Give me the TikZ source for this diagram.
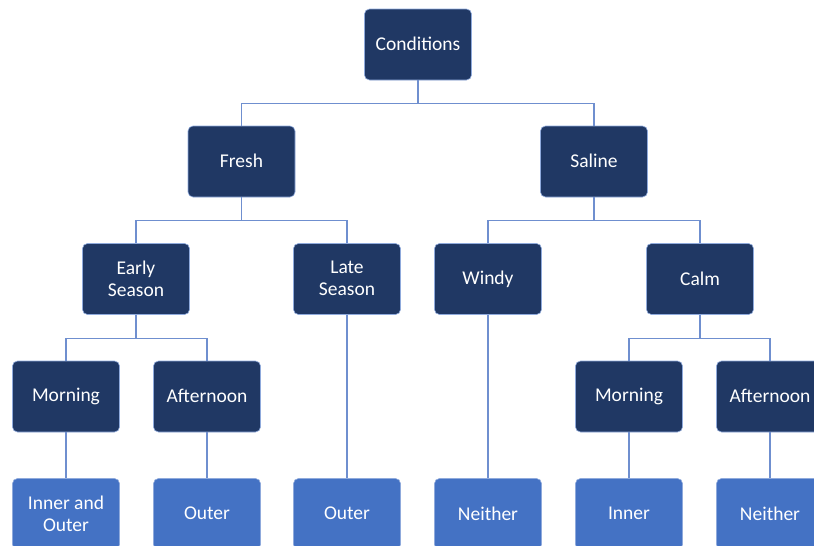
\documentclass[tikz,border=0pt]{standalone}
\usepackage{fontspec}
\setmainfont{Carlito}
\definecolor{navy}{HTML}{203864}
\definecolor{lblue}{HTML}{4472C4}
\definecolor{lineblue}{HTML}{6F8FCF}
\begin{document}
\begin{tikzpicture}[x=1pt,y=-1pt,
  box/.style={rectangle, rounded corners=5pt, minimum width=107pt, minimum height=71pt,
    inner sep=0pt, text=white, align=center, draw=lblue!60!white, line width=0.6pt,
    font=\fontsize{19.5}{22}\selectfont,
    execute at begin node={\vphantom{A}}, execute at end node={\rule[-1pt]{0pt}{1pt}}},
  dbox/.style={box, fill=navy},
  lbox/.style={box, fill=lblue},
  conn/.style={draw=lineblue, line width=1.5pt}]
\useasboundingbox (0,0) rectangle (814,546);
% row 1
\node[dbox] (cond) at (418,44.5) {Conditions};
% row 2
\node[dbox] (fresh) at (241.5,161.5) {Fresh};
\node[dbox] (saline) at (594,161.5) {Saline};
% row 3
\node[dbox] (early) at (136,279) {Early\\Season};
\node[dbox] (late) at (347,279) {Late\\Season};
\node[dbox] (windy) at (488,279) {Windy};
\node[dbox] (calm) at (700,279) {Calm};
% row 4
\node[dbox] (morn1) at (66,396.5) {Morning};
\node[dbox] (aft1) at (207,396.5) {Afternoon};
\node[dbox] (morn2) at (629,396.5) {Morning};
\node[dbox] (aft2) at (770,396.5) {Afternoon};
% row 5
\node[lbox] (io) at (66,514) {Inner and\\Outer};
\node[lbox] (out1) at (207,514) {Outer};
\node[lbox] (out2) at (347,514) {Outer};
\node[lbox] (nei1) at (488,514) {Neither};
\node[lbox] (inn) at (629,514) {Inner};
\node[lbox] (nei2) at (770,514) {Neither};
% connectors
\begin{scope}[conn]
\draw (cond.south) -- ++(0,23) -| (fresh.north);
\draw (cond.south) -- ++(0,23) -| (saline.north);
\draw (fresh.south) -- ++(0,23) -| (early.north);
\draw (fresh.south) -- ++(0,23) -| (late.north);
\draw (saline.south) -- ++(0,23) -| (windy.north);
\draw (saline.south) -- ++(0,23) -| (calm.north);
\draw (early.south) -- ++(0,23.5) -| (morn1.north);
\draw (early.south) -- ++(0,23.5) -| (aft1.north);
\draw (calm.south) -- ++(0,23.5) -| (morn2.north);
\draw (calm.south) -- ++(0,23.5) -| (aft2.north);
\draw (morn1.south) -- (io.north);
\draw (aft1.south) -- (out1.north);
\draw (late.south) -- (out2.north);
\draw (windy.south) -- (nei1.north);
\draw (morn2.south) -- (inn.north);
\draw (aft2.south) -- (nei2.north);
\end{scope}
\end{tikzpicture}
\end{document}
